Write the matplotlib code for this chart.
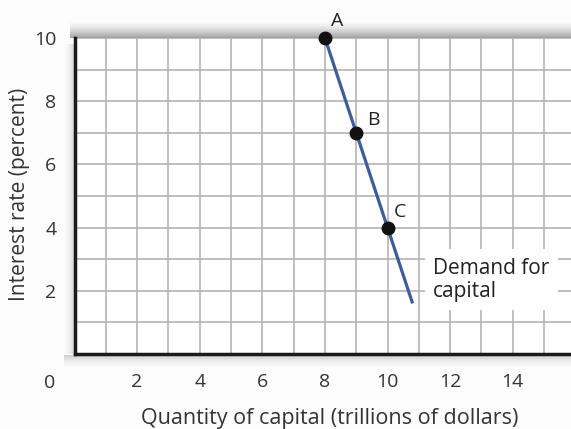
import matplotlib.pyplot as plt
import numpy as np

plt.rcParams['font.family'] = ['Open Sans', 'DejaVu Sans']

# demand for capital: interest rate vs quantity of capital
demand_q = [8, 9, 10, 10.8]
demand_r = [10, 7, 4, 1.6]
point_q = [8, 9, 10]
point_r = [10, 7, 4]
point_names = ['A', 'B', 'C']
x_ticks = [2, 4, 6, 8, 10, 12, 14]
y_ticks = [2, 4, 6, 8, 10]

W, H = 571, 429
fig = plt.figure(figsize=(W / 100, H / 100), dpi=100, facecolor='#fcfcfc')

# soft drop shadow behind the graph panel, drawn in pixel space
bg = fig.add_axes([0, 0, 1, 1], zorder=0)
bg.set_xlim(0, W)
bg.set_ylim(H, 0)
bg.axis('off')


def shade(extent, alphas, vertical):
    a = np.array(alphas)
    img = np.zeros((len(a), 1, 4)) if vertical else np.zeros((1, len(a), 4))
    img[..., :3] = 0.35
    img[..., 3] = a.reshape(img.shape[:2])
    bg.imshow(img, extent=extent, aspect='auto', interpolation='bilinear')


n = 20
ramp = np.linspace(0, 1, n) ** 1.6
shade([70, W, 38, 20], ramp * 0.55, True)          # above the top edge
shade([64, 75, 354, 44], ramp * 0.25, False)       # left of the panel
shade([64, W, 368, 355], ramp[::-1] * 0.28, True)  # under the bottom edge

ax = fig.add_axes([74.5 / W, 75 / H, (W - 74.5) / W, 316 / H], zorder=1)
ax.set_facecolor('white')
ax.set_xlim(0, 15.86)
ax.set_ylim(0, 10)

ax.set_xticks(x_ticks)
ax.set_yticks(y_ticks)
ax.set_xticks(np.arange(1, 16), minor=True)
ax.set_yticks(np.arange(1, 11), minor=True)
ax.grid(True, which='both', color='#b4b4b4', linewidth=1.2, zorder=0)
ax.tick_params(which='both', length=0, labelsize=14, colors='#333333')
ax.tick_params(axis='x', pad=14)
ax.tick_params(axis='y', pad=13)
ax.set_axisbelow(True)

for side in ['top', 'right']:
    ax.spines[side].set_visible(False)
for side in ['left', 'bottom']:
    ax.spines[side].set_linewidth(2.5)
    ax.spines[side].set_color('#1a1a1a')

ax.text(-0.8, -0.092, '0', transform=ax.get_xaxis_transform(),
        ha='center', va='center', fontsize=14, color='#333333', clip_on=False)

ax.plot(demand_q, demand_r, color='#3f5c9a', linewidth=2.3, zorder=3,
        solid_capstyle='butt', clip_on=False)
ax.plot(point_q, point_r, 'o', color='#111111', markersize=9, zorder=4,
        clip_on=False)

label_offsets = [(0.39, 0.55), (0.54, 0.4), (0.4, 0.5)]
for q, r, name, (dx, dy) in zip(point_q, point_r, point_names, label_offsets):
    ax.text(q + dx, r + dy, name, ha='center', va='center', fontsize=14,
            color='#222222', clip_on=False, zorder=5)

ax.text(11.45, 2.35, 'Demand for\ncapital', ha='left', va='center',
        fontsize=15, color='#222222', linespacing=1.15, zorder=5,
        bbox=dict(facecolor='white', edgecolor='none', pad=6))

ax.set_xlabel('Quantity of capital (trillions of dollars)', fontsize=15.5,
              color='#333333')
ax.set_ylabel('Interest rate (percent)', fontsize=15, color='#333333')
ax.xaxis.set_label_coords(0.513, -0.172)
ax.yaxis.set_label_coords(-0.09, 0.505)

fig.savefig('out.png', dpi=100, facecolor=fig.get_facecolor())
